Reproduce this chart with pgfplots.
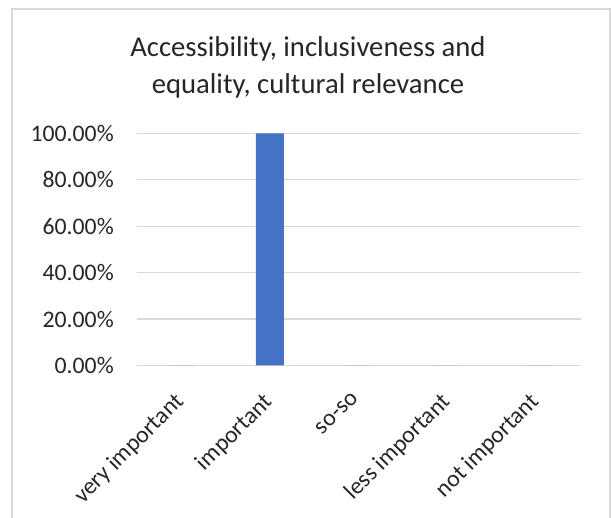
\documentclass[border=0pt]{standalone}
\usepackage{pgfplots}
\pgfplotsset{compat=1.18}
\usepackage{fontspec}
\setmainfont{Carlito}
\definecolor{barblue}{HTML}{4472C4}
\definecolor{gridgray}{HTML}{D9D9D9}
\definecolor{txt}{HTML}{262626}
\begin{document}
\begin{tikzpicture}
\path[use as bounding box] (0pt,0pt) rectangle (458.25pt,388.5pt);
\draw[gridgray, line width=1pt] (9pt,-2pt) -- (9pt,381.75pt) -- (457.6pt,381.75pt) -- (457.6pt,-2pt);
\node[anchor=base, text=txt, inner sep=0pt, font=\fontsize{21.5pt}{26pt}\selectfont] at (231pt,345.75pt) {Accessibility, inclusiveness and};
\node[anchor=base, text=txt, inner sep=0pt, font=\fontsize{21.5pt}{26pt}\selectfont] at (231pt,318pt) {equality, cultural relevance};
\begin{axis}[
  at={(102.5pt,114.4pt)}, anchor=south west,
  scale only axis, width=333.2pt, height=174pt,
  xmin=-0.5, xmax=4.5, ymin=0, ymax=1,
  xtick={0,1,2,3,4},
  xticklabels={very important, important, so-so, less important, not important},
  ytick={0,0.2,0.4,0.6,0.8,1},
  yticklabels={0.00\%,20.00\%,40.00\%,60.00\%,80.00\%,100.00\%},
  /pgf/number format/assume math mode=true,
  ymajorgrids, grid style={gridgray, line width=0.9pt},
  axis line style={draw=none}, major tick style={draw=none},
  tick label style={text=txt, font=\fontsize{17.8pt}{21pt}\selectfont},
  yticklabel style={anchor=east, inner sep=0pt, xshift=-17pt},
  xticklabel style={xshift=-6pt, yshift=-19pt, rotate=45, anchor=north east, inner sep=0pt},
  clip=false,
]
\addplot[ybar, bar width=21pt, fill=barblue, draw=none] coordinates {(0,0) (1,1) (2,0) (3,0) (4,0)};
\end{axis}
\end{tikzpicture}
\end{document}
